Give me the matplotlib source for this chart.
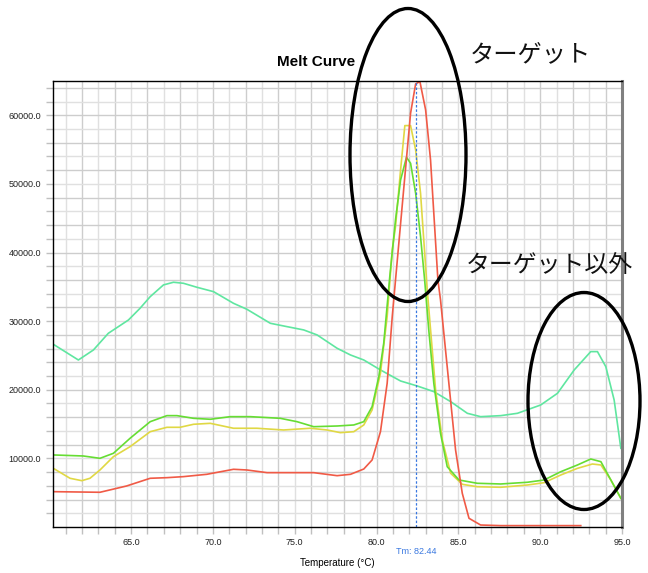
import numpy as np
import matplotlib
matplotlib.use('Agg')
from matplotlib import pyplot as plt
from matplotlib.patches import Ellipse

plt.rcParams['font.family'] = ['Liberation Sans', 'DejaVu Sans']

# temperature (°C) / -dF/dT readings for each well
teal_t = [60.25, 61.78, 62.70, 63.61, 64.84, 65.55, 66.17, 66.98, 67.59, 68.20,
          69.02, 70.04, 71.26, 72.08, 73.51, 74.53, 75.55, 76.37, 77.59, 78.41,
          79.22, 80.24, 81.47, 82.49, 83.50, 84.53, 85.55, 86.36, 87.59, 88.61,
          90.03, 91.06, 92.08, 93.09, 93.50, 94.01, 94.52, 94.93]
teal_v = [26630, 24340, 25800, 28230, 30170, 31880, 33570, 35280, 35670, 35520,
          34940, 34300, 32600, 31730, 29690, 29200, 28720, 27990, 26050, 25070,
          24340, 22890, 21280, 20550, 19730, 18270, 16570, 16080, 16230, 16570,
          17780, 19490, 22890, 25560, 25560, 23370, 18510, 11470]

green_t = [60.25, 62.08, 63.10, 63.92, 64.94, 66.17, 67.19, 67.80, 68.82, 69.84,
           71.06, 72.29, 74.12, 75.14, 76.16, 77.59, 78.61, 79.22, 79.73, 80.14,
           80.44, 80.81, 81.16, 81.47, 81.83, 82.08, 82.39, 82.69, 82.94, 83.20,
           83.50, 83.91, 84.32, 85.04, 86.16, 87.59, 89.22, 90.24, 91.26, 92.28,
           93.09, 93.71, 94.32, 94.93]
green_v = [10500, 10350, 10010, 10740, 12930, 15350, 16230, 16230, 15840, 15700,
           16080, 16080, 15840, 15350, 14620, 14720, 14870, 15350, 17540, 21910,
           26780, 36500, 44750, 50580, 53890, 53010, 48640, 42320, 36010, 28500,
           20950, 13660, 8790, 6850, 6370, 6270, 6520, 6850, 8060, 9040,
           9910, 9520, 6850, 4180]

yellow_t = [60.25, 61.27, 61.99, 62.49, 63.10, 63.92, 64.94, 66.17, 67.19, 67.99,
            68.82, 69.84, 71.26, 72.69, 74.32, 75.96, 76.98, 77.79, 78.61, 79.22,
            79.73, 80.24, 80.65, 80.96, 81.16, 81.47, 81.73, 82.08, 82.39, 82.69,
            83.10, 83.61, 84.02, 84.53, 85.24, 86.16, 87.59, 89.22, 90.24, 91.26,
            92.28, 93.19, 93.71, 94.32, 94.93]
yellow_v = [8550, 7100, 6750, 7100, 8310, 10250, 11710, 13890, 14530, 14530,
            14970, 15110, 14390, 14390, 14140, 14390, 14140, 13750, 13890, 14870,
            17060, 22400, 30660, 40380, 43770, 52040, 58500, 58500, 54960, 48640,
            34500, 19970, 12680, 7830, 6220, 5870, 5790, 6120, 6460, 7580,
            8550, 9180, 9040, 6850, 4180]

red_t = [60.25, 63.10, 64.73, 66.17, 67.19, 68.20, 69.63, 71.26, 72.08, 73.31,
         76.16, 77.59, 78.41, 79.22, 79.73, 80.24, 80.65, 80.96, 81.27, 81.67,
         82.08, 82.39, 82.65, 83.00, 83.30, 83.75, 83.91, 84.42, 84.83, 85.24,
         85.65, 86.36, 87.59, 92.48]
red_v = [5150, 5060, 5980, 7100, 7190, 7340, 7680, 8410, 8310, 7920,
         7920, 7480, 7680, 8450, 9770, 13890, 20950, 30660, 38900, 49500,
         60300, 64580, 64920, 60790, 53500, 36010, 33090, 20950, 11220, 4910,
         1270, 290, 200, 200]

tm = 82.44


def draw_grid(ax):
    for i, x in enumerate(range(61, 95)):
        ax.axvline(x, color='#cdcdcd' if i % 2 else '#e0e0e0', lw=1, zorder=0)
    for i, y in enumerate(range(2000, 65000, 2000)):
        ax.axhline(y, color='#cdcdcd' if i % 2 else '#e0e0e0', lw=1, zorder=0)


def main():
    fig = plt.figure(figsize=(6.48, 5.73), dpi=100)
    ax = fig.add_axes([53 / 648, 46 / 573, 569 / 648, 446 / 573])
    draw_grid(ax)

    ax.plot(teal_t, teal_v, color='#5fe6a0', lw=1.2)
    ax.plot(yellow_t, yellow_v, color='#e0d844', lw=1.2)
    ax.plot(green_t, green_v, color='#66dd33', lw=1.2)
    ax.plot(red_t, red_v, color='#f05a46', lw=1.2)
    ax.axvline(tm, color='#3a78e0', lw=0.9, ls=(0, (2, 1.5)))

    ax.set_xlim(60.23, 95.0)
    ax.set_ylim(0, 65000)
    ax.set_xticks(np.arange(65, 95.1, 5))
    ax.set_xticklabels(['%.1f' % v for v in np.arange(65, 95.1, 5)])
    ax.set_xticks(np.arange(61, 95, 1), minor=True)
    ax.set_yticks(np.arange(10000, 60001, 10000))
    ax.set_yticklabels(['%.1f' % v for v in np.arange(10000, 60001, 10000)])
    ax.set_yticks(np.arange(2000, 65000, 2000), minor=True)
    ax.tick_params(which='both', labelsize=6.5, color='#c0c0c0', length=5,
                   width=1, labelcolor='#222222')
    ax.tick_params(axis='x', which='major', pad=3)

    for side in ['left', 'bottom', 'top']:
        ax.spines[side].set_color('#000000')
        ax.spines[side].set_linewidth(1)
    ax.spines['right'].set_color('#808080')
    ax.spines['right'].set_linewidth(2.2)

    fig.text((53 + (tm - 60.23) * 16.36) / 648, 1 - 552 / 573,
             'Tm: %.2f' % tm, ha='center', va='center', fontsize=6.5,
             color='#3a78e0')
    fig.text(337 / 648, 1 - 563 / 573, 'Temperature (°C)', ha='center',
             va='center', fontsize=7)
    fig.text(316 / 648, 1 - 62 / 573, 'Melt Curve', ha='center', va='center',
             fontsize=11, fontweight='bold')

    # hand-drawn annotations over the whole figure
    over = fig.add_axes([0, 0, 1, 1], facecolor='none')
    over.set_xlim(0, 648)
    over.set_ylim(573, 0)
    over.axis('off')
    over.add_patch(Ellipse((408, 155), 116, 293, fill=False, lw=2.4,
                           ec='black'))
    over.add_patch(Ellipse((584, 401), 112, 217, fill=False, lw=2.4,
                           ec='black'))
    jp = ['Noto Sans CJK JP', 'DejaVu Sans']
    over.text(530, 54, 'ターゲット', ha='center', va='center', fontsize=17.5,
              family=jp, color='#111111')
    over.text(549, 266, 'ターゲット以外', ha='center', va='center',
              fontsize=17.2, family=jp, color='#111111')

    fig.savefig('out.png', dpi=100)


if __name__ == '__main__':
    main()
